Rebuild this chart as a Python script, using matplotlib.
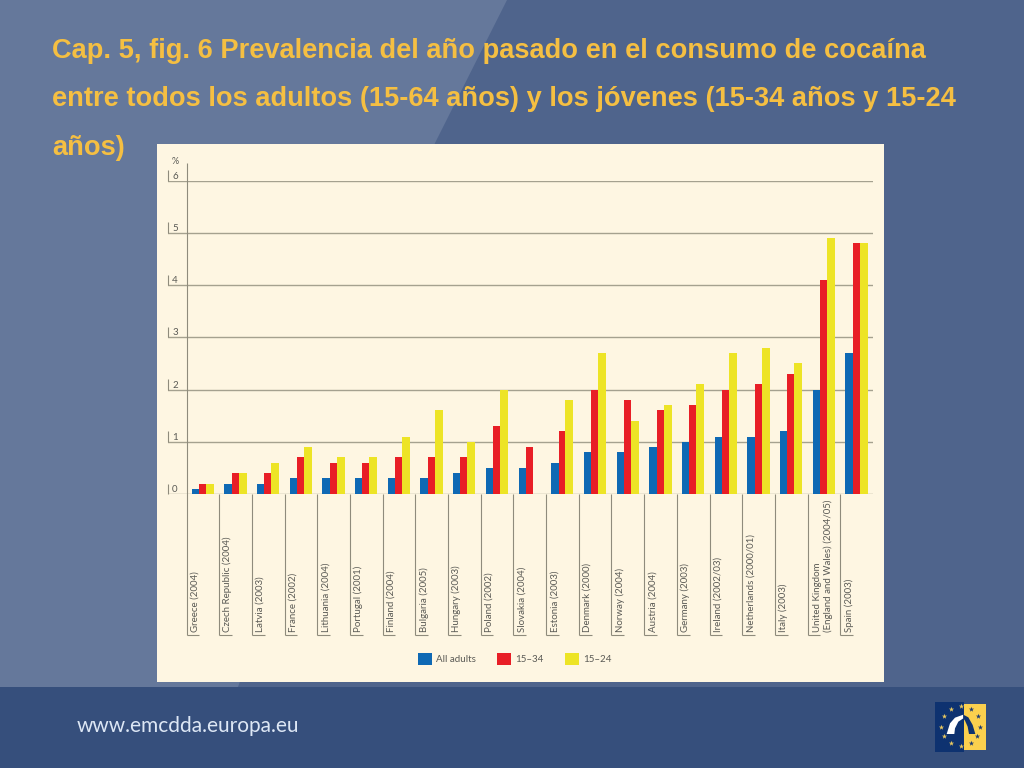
import numpy as np
import matplotlib
matplotlib.use("Agg")
import matplotlib.pyplot as plt
from matplotlib.patches import Polygon, Rectangle

countries = ["Greece (2004)", "Czech Republic (2004)", "Latvia (2003)", "France (2002)",
             "Lithuania (2004)", "Portugal (2001)", "Finland (2004)", "Bulgaria (2005)",
             "Hungary (2003)", "Poland (2002)", "Slovakia (2004)", "Estonia (2003)",
             "Denmark (2000)", "Norway (2004)", "Austria (2004)", "Germany (2003)",
             "Ireland (2002/03)", "Netherlands (2000/01)", "Italy (2003)",
             "United Kingdom\n(England and Wales) (2004/05)", "Spain (2003)"]
all_adults = [0.1, 0.2, 0.2, 0.3, 0.3, 0.3, 0.3, 0.3, 0.4, 0.5, 0.5, 0.6, 0.8, 0.8, 0.9, 1.0, 1.1, 1.1, 1.2, 2.0, 2.7]
age_15_34 = [0.2, 0.4, 0.4, 0.7, 0.6, 0.6, 0.7, 0.7, 0.7, 1.3, 0.9, 1.2, 2.0, 1.8, 1.6, 1.7, 2.0, 2.1, 2.3, 4.1, 4.8]
age_15_24 = [0.2, 0.4, 0.6, 0.9, 0.7, 0.7, 1.1, 1.6, 1.0, 2.0, np.nan, 1.8, 2.7, 1.4, 1.7, 2.1, 2.7, 2.8, 2.5, 4.9, 4.8]
y_ticks = [0, 1, 2, 3, 4, 5, 6]

title_lines = ["Cap. 5, fig. 6 Prevalencia del año pasado en el consumo de cocaína",
               "entre todos los adultos (15-64 años) y los jóvenes (15-34 años y 15-24",
               "años)"]
footer = "www.emcdda.europa.eu"

W, H = 1024, 768
fig = plt.figure(figsize=(W / 100, H / 100), dpi=100)
bg = fig.add_axes([0, 0, 1, 1])
bg.set_xlim(0, W); bg.set_ylim(H, 0); bg.axis("off")
bg.add_patch(Rectangle((0, 0), W, H, color="#4F648C", lw=0))
bg.add_patch(Polygon([(0, 0), (507, 0), (435, 143), (238, 687), (0, 687)], color="#65789B", lw=0))
bg.add_patch(Rectangle((0, 687), W, 81, color="#364F7C", lw=0))
bg.add_patch(Rectangle((157, 144), 726.5, 538, color="#FEF6E2", lw=0))

for t, yb in zip(title_lines, [57.5, 106.5, 155]):
    bg.text(52, yb, t, family="Liberation Sans", weight="bold", fontsize=19.6,
            color="#F5BF42", va="baseline", ha="left")
bg.text(77, 732, footer, family="Lato", fontsize=15, color="#DDE7F5", va="baseline", ha="left")

# logo
bg.add_patch(Rectangle((935, 701.5), 29, 50, color="#0E3270", lw=0))
bg.add_patch(Rectangle((964, 703.5), 22, 46, color="#FBD04E", lw=0))
to_px = lambda pts: [(900 + a / 3, 680 + b / 3) for a, b in pts]
bg.add_patch(Polygon(to_px([(140, 162), (150, 130), (165, 113), (190, 104), (190, 115),
                            (175, 125), (165, 145), (163, 162)]), color="white", lw=0))
bg.add_patch(Polygon(to_px([(190, 104), (205, 112), (218, 135), (226, 162), (207, 162),
                            (203, 140), (195, 122), (190, 115)]), color="#0E3270", lw=0))
s1 = to_px([(183, 78), (153, 87), (131, 108), (123, 140), (131, 168), (153, 188), (183, 198)])
s2 = to_px([(212, 87), (233, 108), (241, 140), (232, 168), (212, 188)])
bg.scatter(*zip(*s1), marker="*", s=16, color="#E8C860", lw=0)
bg.scatter(*zip(*s2), marker="*", s=16, color="#1D3A70", lw=0)

# chart
ax = fig.add_axes([168 / W, (H - 494) / H, (873 - 168) / W, (494 - 180.7) / H])
ax.patch.set_alpha(0)
x = np.arange(len(countries))
ax.set_xlim(-0.566, 21); ax.set_ylim(0, 6)
for s in ax.spines.values():
    s.set_visible(False)
ax.set_axisbelow(True)
ax.grid(axis="y", color="#A5A18F", lw=1.0)

b1 = ax.bar(x + 0.27, all_adults, 0.225, color="#0F69B4", label="All adults", zorder=3)
b2 = ax.bar(x + 0.49, age_15_34, 0.22, color="#E81E26", label="15–34", zorder=3)
b3 = ax.bar(x + 0.715, age_15_24, 0.245, color="#EDE426", label="15–24", zorder=3)

line_c = "#8F8B7C"
ybot = -2.7
ax.vlines(0, ybot, 6.33, color=line_c, lw=0.8, clip_on=False, zorder=2)
ax.vlines(x[1:], ybot, 0, color=line_c, lw=0.8, clip_on=False)
ax.hlines(np.full(len(x), ybot), x, x + 0.39, color=line_c, lw=0.8, clip_on=False)
ax.vlines(np.full(len(y_ticks), -0.566), np.array(y_ticks), np.array(y_ticks) + 0.2,
          color=line_c, lw=0.8, clip_on=False)

txt_c = "#5A5A55"
label_pos = x + 0.26
label_pos[19] += 0.2
ax.set_xticks(label_pos, countries, rotation=90, va="bottom", ha="center", multialignment="left",
              family="Lato", fontsize=7, color=txt_c)
ax.tick_params(axis="x", length=0, pad=99.5)
ax.set_yticks(y_ticks, [str(v) for v in y_ticks], va="bottom", ha="center",
              family="Lato", fontsize=7, color=txt_c)
ax.tick_params(axis="y", length=0, pad=-5)
ax.text(-0.35, 6.36, "%", family="Lato", fontsize=6.5, color=txt_c, ha="center", va="center", clip_on=False)

leg = ax.legend(handles=[b1, b2, b3], loc="upper left", ncol=3, frameon=False,
                bbox_to_anchor=(417.5 / W, (H - 653) / H), bbox_transform=fig.transFigure,
                prop={"family": "Lato", "size": 7}, labelcolor=txt_c,
                borderpad=0, borderaxespad=0, handlelength=1.45, handleheight=1.45,
                handletextpad=0.42, columnspacing=2.2)

fig.savefig("out.png", dpi=100)
